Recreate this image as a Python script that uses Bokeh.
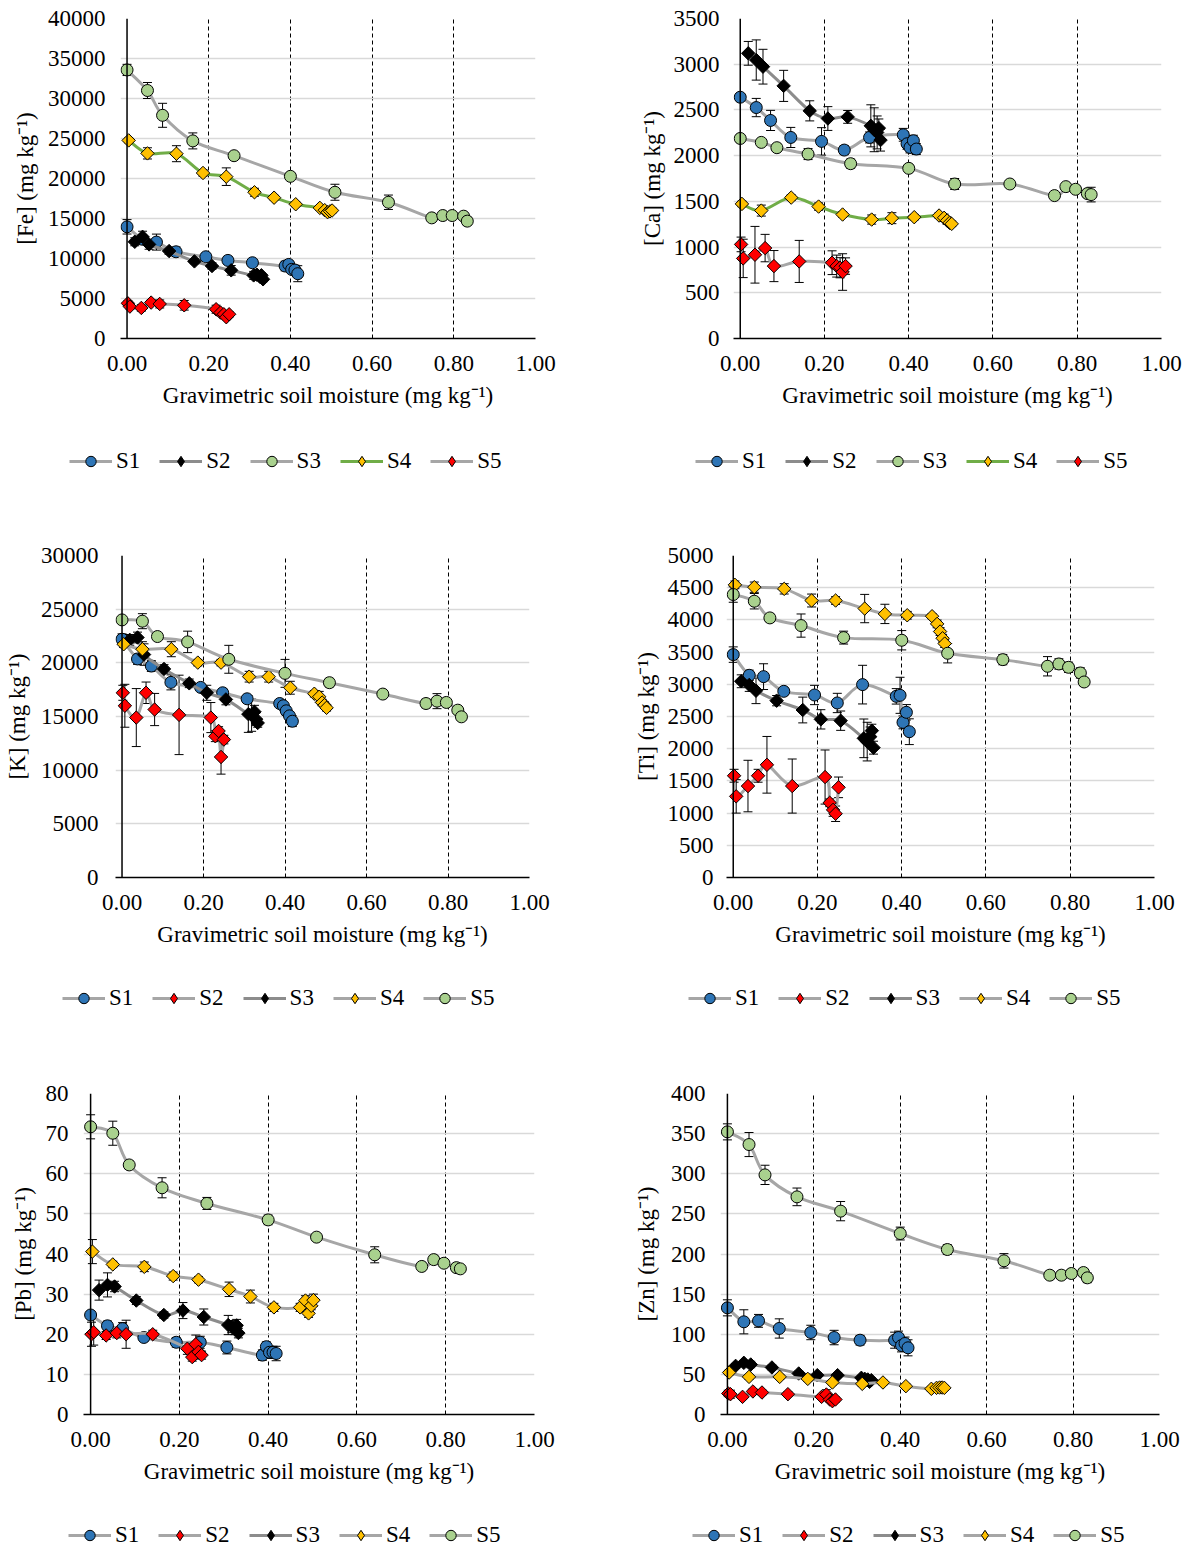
import math
from bokeh.plotting import figure
from bokeh.models import (Range1d, FixedTicker, NumeralTickFormatter, Span, Whisker,
                          TeeHead, ColumnDataSource, Legend, LegendItem)
from bokeh.layouts import column, row
from bokeh.embed import file_html
from bokeh.resources import INLINE

FONT = "Liberation Serif"
XLABEL = "Gravimetric soil moisture (mg kg\u207b\u00b9)"
X_TICKS = [0.0, 0.2, 0.4, 0.6, 0.8, 1.0]
X0 = -0.016

# moisture (x) values for each sampling site (shared by all panels)
X_BLUE = [0.000, 0.038, 0.072, 0.120, 0.193, 0.247, 0.307, 0.387, 0.396, 0.403, 0.411, 0.418]
X_BLACK = [0.019, 0.038, 0.054, 0.103, 0.165, 0.208, 0.255, 0.310, 0.318, 0.325, 0.329, 0.333]
X_GREEN = [0.000, 0.050, 0.087, 0.161, 0.262, 0.400, 0.509, 0.640, 0.746, 0.773, 0.796, 0.824, 0.833]
X_YELLOW = [0.004, 0.050, 0.121, 0.186, 0.243, 0.312, 0.360, 0.413, 0.472, 0.484, 0.491, 0.497, 0.502]
X_RED = [0.002, 0.007, 0.035, 0.059, 0.080, 0.140, 0.218, 0.229, 0.237, 0.243, 0.250]

# ---- Fe ----
FE_BLUE = [13960, 12400, 12050, 10840, 10220, 9760, 9470, 9060, 9260, 8640, 8560, 8100]
FE_BLUE_E = [900, 600, 1000, 600, 400, 500, 400, 600, 400, 500, 600, 1000]
FE_BLACK = [12090, 12710, 11760, 10930, 9640, 9060, 8520, 7890, 7970, 7730, 7900, 7400]
FE_BLACK_E = [500, 700, 600, 400, 300, 400, 600, 500, 400, 400, 300, 300]
FE_GREEN = [33570, 31000, 27900, 24700, 22850, 20270, 18280, 17030, 15080, 15370, 15370, 15290, 14670]
FE_GREEN_E = [700, 1000, 1500, 1000, 400, 300, 1000, 900, 300, 300, 300, 300, 500]
FE_YELLOW = [24760, 23140, 23100, 20690, 20230, 18280, 17600, 16780, 16330, 16040, 15790, 15900, 16000]
FE_YELLOW_E = [300, 700, 1000, 400, 1100, 500, 300, 300, 300, 300, 300, 300, 300]
FE_RED = [4400, 3990, 3820, 4490, 4320, 4150, 3660, 3240, 3030, 2660, 3030]
FE_RED_E = [300, 300, 400, 300, 500, 600, 500, 400, 300, 300, 300]

# ---- Ca ----
CA_BLUE = [2639, 2526, 2385, 2199, 2156, 2061, 2199, 2228, 2130, 2090, 2163, 2072]
CA_BLUE_E = [40, 100, 110, 110, 150, 50, 60, 70, 60, 60, 60, 60]
CA_BLACK = [3119, 3046, 2973, 2763, 2490, 2406, 2424, 2326, 2283, 2254, 2301, 2170]
CA_BLACK_E = [130, 220, 190, 170, 110, 130, 70, 230, 240, 180, 100, 120]
CA_GREEN = [2188, 2145, 2087, 2017, 1912, 1861, 1690, 1690, 1563, 1661, 1632, 1585, 1574]
CA_GREEN_E = [40, 30, 40, 60, 50, 40, 60, 30, 30, 30, 30, 40, 80]
CA_YELLOW = [1472, 1399, 1541, 1443, 1356, 1301, 1316, 1327, 1345, 1320, 1290, 1265, 1254]
CA_YELLOW_E = [30, 60, 30, 40, 30, 50, 60, 30, 30, 40, 40, 30, 30]
CA_RED = [1029, 876, 916, 989, 792, 843, 829, 792, 774, 727, 792]
CA_RED_E = [80, 210, 310, 150, 170, 230, 130, 120, 110, 200, 90]

# ---- K ----
K_BLUE = [22200, 20360, 19700, 18180, 17710, 17210, 16650, 16210, 16000, 15530, 15060, 14560]
K_BLUE_E = [500, 500, 500, 700, 300, 400, 300, 300, 300, 400, 400, 500]
K_BLACK = [22140, 22360, 20770, 19430, 18090, 17210, 16590, 15220, 15120, 15440, 14750, 14400]
K_BLACK_E = [500, 500, 1000, 400, 400, 700, 500, 1700, 1500, 600, 600, 400]
K_GREEN = [24000, 23880, 22450, 21950, 20330, 19020, 18150, 17090, 16210, 16430, 16310, 15590, 14970]
K_GREEN_E = [300, 700, 300, 1000, 1300, 1300, 400, 300, 400, 700, 300, 300, 200]
K_YELLOW = [21730, 21270, 21270, 20020, 20020, 18710, 18710, 17680, 17120, 16840, 16300, 16060, 15810]
K_YELLOW_E = [300, 700, 700, 300, 300, 500, 500, 600, 300, 500, 300, 300, 300]
K_RED = [17210, 16000, 14900, 17210, 15650, 15150, 14900, 13160, 13650, 11230, 12850]
K_RED_E = [700, 2000, 2700, 1000, 1500, 3700, 1400, 500, 400, 1600, 400]

# ---- Ti ----
TI_BLUE = [3461, 3140, 3119, 2891, 2834, 2710, 2995, 2813, 2829, 2409, 2565, 2264]
TI_BLUE_E = [120, 80, 200, 60, 150, 150, 300, 120, 280, 100, 120, 200]
TI_BLACK = [3047, 2990, 2900, 2746, 2601, 2456, 2435, 2161, 2110, 2187, 2280, 2016]
TI_BLACK_E = [100, 100, 200, 80, 200, 150, 150, 300, 300, 150, 100, 100]
TI_GREEN = [4394, 4290, 4031, 3912, 3725, 3684, 3482, 3383, 3280, 3316, 3264, 3176, 3036]
TI_GREEN_E = [120, 120, 60, 180, 100, 150, 150, 80, 150, 80, 80, 80, 60]
TI_YELLOW = [4544, 4508, 4482, 4301, 4301, 4176, 4093, 4072, 4057, 3938, 3819, 3715, 3632]
TI_YELLOW_E = [60, 80, 80, 100, 60, 220, 150, 60, 40, 60, 60, 60, 60]
TI_RED = [1580, 1260, 1420, 1580, 1750, 1420, 1560, 1160, 1050, 990, 1400]
TI_RED_E = [100, 260, 400, 100, 440, 420, 420, 60, 100, 120, 160]

# ---- Pb ----
PB_BLUE = [24.8, 22.1, 21.4, 19.2, 18.0, 18.0, 16.7, 14.8, 16.9, 15.5, 15.5, 15.2]
PB_BLUE_E = [0.8, 1.2, 1.5, 1.0, 1.2, 1.5, 1.6, 1.3, 1.2, 1.5, 1.5, 1.8]
PB_BLACK = [31.0, 32.3, 31.9, 28.4, 24.8, 25.9, 24.3, 22.3, 21.9, 21.4, 22.2, 20.3]
PB_BLACK_E = [2.5, 3.0, 1.3, 1.0, 0.8, 2.0, 2.0, 2.4, 1.5, 1.5, 1.5, 1.2]
PB_GREEN = [71.7, 70.1, 62.2, 56.5, 52.6, 48.5, 44.2, 39.8, 36.9, 38.6, 37.7, 36.6, 36.3]
PB_GREEN_E = [3.0, 3.0, 1.0, 2.5, 1.5, 1.2, 0.8, 2.0, 0.8, 1.0, 0.8, 1.0, 0.8]
PB_YELLOW = [40.6, 37.4, 36.8, 34.5, 33.6, 31.2, 29.4, 26.7, 26.7, 28.4, 25.2, 27.1, 28.5]
PB_YELLOW_E = [3.0, 0.8, 1.2, 1.0, 0.8, 1.8, 1.6, 1.0, 1.0, 1.2, 1.0, 1.0, 1.5]
PB_RED = [20.0, 20.5, 19.7, 20.3, 20.0, 20.0, 16.4, 14.3, 17.5, 15.6, 14.8]
PB_RED_E = [3.0, 3.2, 1.0, 1.2, 3.5, 1.0, 1.4, 1.0, 2.3, 1.3, 1.0]

# ---- Zn ----
ZN_BLUE = [132.9, 115.5, 116.7, 107.2, 102.2, 95.9, 92.6, 92.6, 95.9, 86.0, 88.5, 83.1]
ZN_BLUE_E = [10, 15, 8, 12, 9, 9, 6, 10, 8, 8, 8, 10]
ZN_BLACK = [60.6, 64.4, 62.3, 58.6, 51.1, 49.0, 49.0, 45.7, 44.4, 43.6, 40.7, 42.8]
ZN_BLACK_E = [3, 3, 4, 3, 3, 3, 3, 3, 3, 3, 3, 3]
ZN_GREEN = [352.2, 336.4, 298.6, 271.2, 253.4, 225.5, 205.6, 191.5, 173.6, 173.6, 175.7, 176.9, 170.3]
ZN_GREEN_E = [10, 15, 12, 11, 12, 8, 6, 9, 5, 5, 5, 5, 6]
ZN_YELLOW = [52.3, 46.9, 46.9, 44.4, 39.9, 38.2, 39.9, 35.3, 32.0, 33.2, 33.6, 33.6, 33.2]
ZN_YELLOW_E = [3, 3, 3, 3, 3, 3, 3, 3, 3, 3, 3, 3, 3]
ZN_RED = [26.2, 25.3, 22.0, 28.7, 27.4, 25.3, 22.0, 24.9, 18.7, 16.6, 18.7]
ZN_RED_E = [4, 5, 3, 3, 3, 3, 3, 6, 3, 3, 3]

# site styles: (x values, marker, fill colour, line colour)
GRAY = "#A6A6A6"
DARKGRAY = "#8C8C8C"
SITE = {
    "blue": (X_BLUE, "circle", "#2E75B6", GRAY),
    "black": (X_BLACK, "diamond", "#000000", DARKGRAY),
    "green": (X_GREEN, "circle", "#A9D18E", GRAY),
    "yellow": (X_YELLOW, "diamond", "#FFC000", GRAY),
    "red": (X_RED, "diamond", "#FF0000", GRAY),
}

ORDER_TOP = [("S1", "blue"), ("S2", "black"), ("S3", "green"), ("S4", "yellow"), ("S5", "red")]
ORDER_OTHER = [("S1", "blue"), ("S2", "red"), ("S3", "black"), ("S4", "yellow"), ("S5", "green")]

W = 593
MAIN_BB = 90


def smooth_segments(xs, ys):
    """Cubic Bezier segments through the data points (Excel-style smoothed line)."""
    n = len(xs)
    seg = dict(x0=[], y0=[], x1=[], y1=[], cx0=[], cy0=[], cx1=[], cy1=[])
    for i in range(n - 1):
        a = max(i - 1, 0)
        d = min(i + 2, n - 1)
        seg["x0"].append(xs[i]); seg["y0"].append(ys[i])
        seg["x1"].append(xs[i + 1]); seg["y1"].append(ys[i + 1])
        seg["cx0"].append(xs[i] + (xs[i + 1] - xs[a]) / 6.0)
        seg["cy0"].append(ys[i] + (ys[i + 1] - ys[a]) / 6.0)
        seg["cx1"].append(xs[i + 1] - (xs[d] - xs[i]) / 6.0)
        seg["cy1"].append(ys[i + 1] - (ys[d] - ys[i]) / 6.0)
    return seg


def add_series(p, xs, ys, es, marker, fill, lcol):
    src = ColumnDataSource(dict(x=xs, y=ys,
                                lo=[a - b for a, b in zip(ys, es)],
                                hi=[a + b for a, b in zip(ys, es)]))
    p.add_layout(Whisker(source=src, base="x", lower="lo", upper="hi", dimension="height",
                         line_color="black", line_width=1,
                         upper_head=TeeHead(size=9, line_color="black", line_width=1),
                         lower_head=TeeHead(size=9, line_color="black", line_width=1)))
    p.bezier(source=ColumnDataSource(smooth_segments(xs, ys)), x0="x0", y0="y0", x1="x1",
             y1="y1", cx0="cx0", cy0="cy0", cx1="cx1", cy1="cy1",
             line_color=lcol, line_width=3, line_cap="round")
    if marker == "circle":
        p.scatter("x", "y", source=src, marker="circle", size=12,
                  fill_color=fill, line_color="black", line_width=1)
    else:
        p.scatter("x", "y", source=src, marker="square", angle=math.pi / 4,
                  size=9.5, fill_color=fill, line_color="black", line_width=1)


def make_panel(el, ymax, ystep, data, order, yellow_line, bl, fw, bt, fh, ls, als):
    height = bt + fh + MAIN_BB
    p = figure(width=W, height=height, x_range=Range1d(X0, 1.0),
               y_range=Range1d(0, ymax), output_backend="svg", toolbar_location=None,
               min_border_left=bl, min_border_right=W - bl - fw, min_border_top=bt,
               min_border_bottom=MAIN_BB)
    p.outline_line_color = None
    p.background_fill_color = "white"
    p.border_fill_color = "white"

    yt = list(range(0, ymax + 1, ystep))
    p.xaxis.ticker = FixedTicker(ticks=X_TICKS)
    p.xaxis.formatter = NumeralTickFormatter(format="0.00")
    p.yaxis.ticker = FixedTicker(ticks=yt)
    p.yaxis.formatter = NumeralTickFormatter(format="0")
    p.xgrid.ticker = FixedTicker(ticks=X_TICKS[1:])
    p.ygrid.ticker = FixedTicker(ticks=yt)
    for ax in (p.xaxis, p.yaxis):
        ax.major_tick_line_color = None
        ax.minor_tick_line_color = None
        ax.major_tick_out = 0
        ax.major_tick_in = 0
        ax.major_label_text_font = FONT
        ax.major_label_text_font_size = "23px"
        ax.major_label_text_color = "black"
        ax.axis_label_text_font = FONT
        ax.axis_label_text_font_size = "23px"
        ax.axis_label_text_font_style = "normal"
        ax.axis_label_text_color = "black"
    p.xaxis.axis_label = XLABEL
    p.xaxis.major_label_standoff = 17
    p.xaxis.axis_label_standoff = 9
    p.xaxis.axis_line_color = "black"
    p.xaxis.axis_line_width = 1.5
    p.yaxis.axis_label = "[%s] (mg kg\u207b\u00b9)" % el
    p.yaxis.major_label_standoff = ls
    p.yaxis.axis_label_standoff = als
    p.yaxis.axis_line_color = None

    p.ygrid.grid_line_color = "#D9D9D9"
    p.ygrid.grid_line_width = 1.5
    p.xgrid.grid_line_color = "black"
    p.xgrid.grid_line_width = 1
    p.xgrid.grid_line_dash = "4 3"

    p.add_layout(Span(location=0, dimension="height", line_color="black", line_width=1.5))

    for lab, site in order:
        xs, marker, fill, lcol = SITE[site]
        ys, es = data[site]
        if site == "yellow" and yellow_line:
            lcol = yellow_line
        add_series(p, xs, ys, es, marker, fill, lcol)
    return p


def make_legend(order, yellow_line, height, lx, ly):
    q = figure(width=W, height=height, x_range=Range1d(0, 1), y_range=Range1d(0, 1),
               output_backend="svg", toolbar_location=None, min_border=0,
               x_axis_location=None, y_axis_location=None)
    q.outline_line_color = None
    q.grid.visible = False
    items = []
    for lab, site in order:
        _, marker, fill, lcol = SITE[site]
        if site == "yellow" and yellow_line:
            lcol = yellow_line
        # legend-only renderers: a single point kept outside the visible range
        src = ColumnDataSource(dict(x=[-5.0], y=[-5.0]))
        lr = q.line("x", "y", source=src, line_color=lcol, line_width=3)
        sr = q.scatter("x", "y", source=src, marker=marker, size=10,
                       fill_color=fill, line_color="black", line_width=1)
        items.append(LegendItem(label=lab, renderers=[lr, sr]))
    leg = Legend(items=items, orientation="horizontal", location=(lx, ly),
                 label_text_font=FONT, label_text_font_size="23px", label_text_color="black",
                 glyph_width=43, glyph_height=26, spacing=19, label_standoff=4,
                 padding=0, margin=0, border_line_color=None, background_fill_alpha=0)
    q.add_layout(leg, "center")
    return q


p_fe = make_panel("Fe", 40000, 5000, {
    "blue": (FE_BLUE, FE_BLUE_E), "black": (FE_BLACK, FE_BLACK_E),
    "green": (FE_GREEN, FE_GREEN_E), "yellow": (FE_YELLOW, FE_YELLOW_E),
    "red": (FE_RED, FE_RED_E)}, ORDER_TOP, "#70AD47", 120, 415, 18, 320, 15, 7)
p_ca = make_panel("Ca", 3500, 500, {
    "blue": (CA_BLUE, CA_BLUE_E), "black": (CA_BLACK, CA_BLACK_E),
    "green": (CA_GREEN, CA_GREEN_E), "yellow": (CA_YELLOW, CA_YELLOW_E),
    "red": (CA_RED, CA_RED_E)}, ORDER_TOP, "#70AD47", 140, 428, 18, 320, 14, 6)
p_k = make_panel("K", 30000, 5000, {
    "blue": (K_BLUE, K_BLUE_E), "black": (K_BLACK, K_BLACK_E),
    "green": (K_GREEN, K_GREEN_E), "yellow": (K_YELLOW, K_YELLOW_E),
    "red": (K_RED, K_RED_E)}, ORDER_OTHER, None, 115, 414, 14, 322, 17, 8)
p_ti = make_panel("Ti", 5000, 500, {
    "blue": (TI_BLUE, TI_BLUE_E), "black": (TI_BLACK, TI_BLACK_E),
    "green": (TI_GREEN, TI_GREEN_E), "yellow": (TI_YELLOW, TI_YELLOW_E),
    "red": (TI_RED, TI_RED_E)}, ORDER_OTHER, None, 133, 428, 14, 322, 13, 6)
p_pb = make_panel("Pb", 80, 10, {
    "blue": (PB_BLUE, PB_BLUE_E), "black": (PB_BLACK, PB_BLACK_E),
    "green": (PB_GREEN, PB_GREEN_E), "yellow": (PB_YELLOW, PB_YELLOW_E),
    "red": (PB_RED, PB_RED_E)}, ORDER_OTHER, None, 83, 451, 14, 321, 15, 7)
p_zn = make_panel("Zn", 400, 50, {
    "blue": (ZN_BLUE, ZN_BLUE_E), "black": (ZN_BLACK, ZN_BLACK_E),
    "green": (ZN_GREEN, ZN_GREEN_E), "yellow": (ZN_YELLOW, ZN_YELLOW_E),
    "red": (ZN_RED, ZN_RED_E)}, ORDER_OTHER, None, 127, 439, 14, 321, 15, 9)

l_fe = make_legend(ORDER_TOP, "#70AD47", 113, 69, 67)
l_ca = make_legend(ORDER_TOP, "#70AD47", 113, 102, 67)
l_k = make_legend(ORDER_OTHER, None, 112, 62, 68)
l_ti = make_legend(ORDER_OTHER, None, 112, 95, 68)
l_pb = make_legend(ORDER_OTHER, None, 44, 68, 0)
l_zn = make_legend(ORDER_OTHER, None, 44, 99, 0)

layout = column(row(p_fe, p_ca), row(l_fe, l_ca),
                row(p_k, p_ti), row(l_k, l_ti),
                row(p_pb, p_zn), row(l_pb, l_zn))
open("out.html", "w").write(file_html(layout, INLINE))
